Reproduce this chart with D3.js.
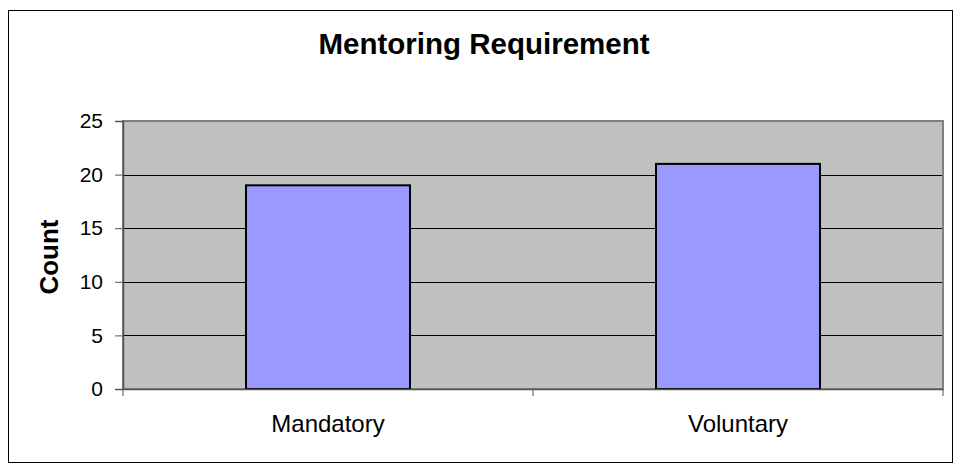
<!DOCTYPE html>
<html><head><meta charset="utf-8">
<script src="https://cdn.jsdelivr.net/npm/d3@7"></script>
<style>body{margin:0;background:#fff}svg{display:block}text{font-family:"Liberation Sans",Arial,sans-serif}</style>
</head><body>
<svg id="c" width="954" height="464"></svg>
<script>
const categories = ["Mandatory", "Voluntary"];
const counts = [19, 21];
const yTicks = [0, 5, 10, 15, 20, 25];
const title = "Mentoring Requirement";
const yLabel = "Count";

const FONT = '"Liberation Sans",Arial,sans-serif';
const svg = d3.select("#c");
svg.append("rect").attr("x", 8.5).attr("y", 10.5).attr("width", 944).attr("height", 452)
  .attr("fill", "#fff").attr("stroke", "#000").attr("stroke-width", 1);

const L = 123, R = 943, T = 121, B = 389;
const x = d3.scaleBand().domain(categories).range([L, R]).paddingInner(0.6).paddingOuter(0.3);
const y = d3.scaleLinear().domain([0, 25]).range([B, T]);

svg.append("rect").attr("x", L).attr("y", T).attr("width", R - L).attr("height", B - T).attr("fill", "#c0c0c0");

svg.append("g").selectAll("line").data(yTicks.filter(d => d > 0 && d < 25)).join("line")
  .attr("x1", L).attr("x2", R).attr("y1", d => Math.round(y(d)) + 0.5).attr("y2", d => Math.round(y(d)) + 0.5)
  .attr("stroke", "#000").attr("stroke-width", 1);

svg.append("rect").attr("x", L).attr("y", T).attr("width", R - L).attr("height", B - T)
  .attr("fill", "none").attr("stroke", "#808080").attr("stroke-width", 2);

svg.append("g").selectAll("rect").data(counts).join("rect")
  .attr("x", (d, i) => x(categories[i])).attr("width", x.bandwidth())
  .attr("y", d => y(d)).attr("height", d => B - y(d))
  .attr("fill", "#9999ff").attr("stroke", "#000").attr("stroke-width", 2);

const ya = d3.axisLeft(y).tickValues(yTicks).tickSize(8).tickPadding(12).tickFormat(d3.format("d"));
const gy = svg.append("g").attr("transform", `translate(${L},0)`).call(ya);
gy.select(".domain").attr("stroke", "#555").attr("stroke-width", 1.5);
gy.selectAll(".tick line").attr("stroke", "#555");
gy.selectAll("text").attr("font-size", 21).attr("fill", "#000").attr("font-family", FONT);

const xa = d3.axisBottom(x).tickSize(0).tickPadding(26);
const gx = svg.append("g").attr("transform", `translate(0,${B})`).call(xa);
gx.select(".domain").attr("stroke", "#555").attr("stroke-width", 1.5);
gx.selectAll("text").attr("font-size", 24).attr("fill", "#000").attr("font-family", FONT);
const bounds = [L, L + x.step(), R];
svg.append("g").selectAll("line").data(bounds).join("line")
  .attr("x1", d => d).attr("x2", d => d).attr("y1", B).attr("y2", B + 7)
  .attr("stroke", "#555").attr("stroke-width", 1);

svg.append("text").attr("x", 484).attr("y", 54).attr("text-anchor", "middle")
  .attr("font-size", 29.5).attr("font-weight", "bold").text(title);
svg.append("text").attr("transform", `translate(58,257) rotate(-90)`).attr("text-anchor", "middle")
  .attr("font-size", 26).attr("font-weight", "bold").text(yLabel);
</script>
</body></html>
